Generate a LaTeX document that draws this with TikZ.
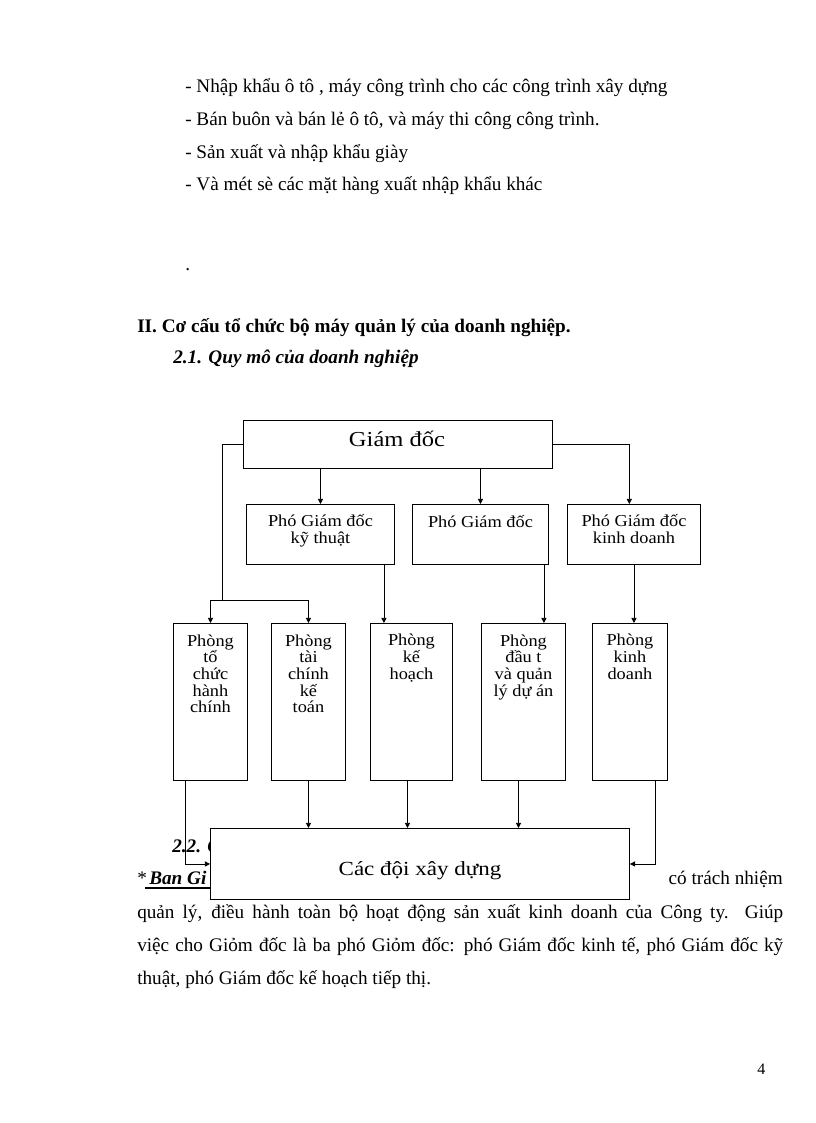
\documentclass[tikz,border=0pt]{standalone}
\usepackage{fontspec}
\setmainfont{Liberation Serif}
\newfontfamily\diafont[FakeStretch=1.1]{Liberation Serif}
\newfontfamily\bigfont[FakeStretch=1.15]{Liberation Serif}
\usetikzlibrary{arrows.meta,calc}
\lineskiplimit=-20pt
\begin{document}
\begin{tikzpicture}[x=0.75pt,y=-0.75pt,
  body/.style={anchor=base west,inner sep=0pt,font=\fontsize{14.4}{16}\selectfont},
  box/.style={draw,line width=0.7pt,fill=white,inner sep=0pt,anchor=north west},
  lbl/.style={anchor=base,inner sep=0pt,align=center,font=\diafont\fontsize{12.5}{12.5}\selectfont},
  conn/.style={draw,line width=0.6pt},
  arr/.style={conn,-{Triangle[length=3.8pt,width=3.8pt]}}]
\useasboundingbox (0,0) rectangle (816,1123);
\fill[white] (0,0) rectangle (816,1123);

% top text
\node[body] (t1) at (185,93) {- Nhập khẩu ô tô , máy công trình cho các công trình xây dựng};
\node[body] (t2) at (185,126) {- Bán buôn và bán lẻ ô tô, và máy thi công công trình.};
\node[body] (t3) at (185,159) {- Sản xuất và nhập khẩu giày};
\node[body] (t4) at (185,191) {- Và mét sè các mặt hàng xuất nhập khẩu khác};
\node[body] (dot) at (185,270) {.};
\node[body,font=\fontsize{14.4}{16}\selectfont\bfseries] (h1) at (137,332) {II. Cơ cấu tổ chức bộ máy quản lý của doanh nghiệp.};
\node[body,font=\fontsize{14.4}{16}\selectfont\bfseries\itshape] (h2) at (173,363) {2.1. Quy mô của doanh nghiệp};

% text partly hidden by the bottom box
\node[body,font=\fontsize{14.4}{16}\selectfont\bfseries\itshape] (h3) at (172,852) {2.2. C};
\node[body] (star) at (137,884) {* };
\node[body,font=\fontsize{14.4}{16}\selectfont\bfseries\itshape] (ban) at (149,884) {Ban Gi};
\draw[line width=1.4pt] (145,888) -- (215,888);
\node[body,anchor=base east] (p0) at (783,884) {có trách nhiệm};
\node[body] (p1) at (137,918) {\makebox[484.5pt][s]{quản lý, điều hành toàn bộ hoạt động sản xuất kinh doanh của Công ty. Giúp}};
\node[body] (p2) at (137,951) {\makebox[484.5pt][s]{việc cho Giỏm đốc là ba phó Giỏm đốc: phó Giám đốc kinh tế, phó Giám đốc kỹ}};
\node[body] (p3) at (137,984) {thuật, phó Giám đốc kế hoạch tiếp thị.};
\node[body,font=\fontsize{12}{14}\selectfont] (pg) at (757,1074) {4};

% baselines of the last line of each label
\coordinate (yA1) at (0,527);
\coordinate (yA2) at (0,543.5);
\coordinate (yB3) at (0,679.3);
\coordinate (yB4) at (0,696);
\coordinate (yB5) at (0,712.7);
\coordinate (yC) at (0,875);

% boxes
\node[box,minimum width=309*0.75pt,minimum height=48*0.75pt] (gd) at (243,420) {};
\node[lbl,font=\bigfont\fontsize{16}{18}\selectfont] (gdt) at (397,446) {Giám đốc};

\node[box,minimum width=148*0.75pt,minimum height=60*0.75pt] (pgd1) at (246,504) {};
\node[box,minimum width=136*0.75pt,minimum height=60*0.75pt] (pgd2) at (412,504) {};
\node[box,minimum width=133*0.75pt,minimum height=60*0.75pt] (pgd3) at (567,504) {};
\node[lbl] (pgd1t) at (pgd1.north |- yA2) {Phó Giám đốc\\kỹ thuật};
\node[lbl] (pgd2t) at (pgd2.north |- yA1) {Phó Giám đốc};
\node[lbl] (pgd3t) at (pgd3.north |- yA2) {Phó Giám đốc\\kinh doanh};

\node[box,minimum width=74*0.75pt,minimum height=157*0.75pt] (pA) at (173,623) {};
\node[box,minimum width=74*0.75pt,minimum height=157*0.75pt] (pB) at (271,623) {};
\node[box,minimum width=82*0.75pt,minimum height=157*0.75pt] (pC) at (370,623) {};
\node[box,minimum width=84*0.75pt,minimum height=157*0.75pt] (pD) at (481,623) {};
\node[box,minimum width=75*0.75pt,minimum height=157*0.75pt] (pE) at (592,623) {};
\node[lbl] (pAt) at (pA.north |- yB5) {Phòng\\tổ\\chức\\hành\\chính};
\node[lbl] (pBt) at (pB.north |- yB5) {Phòng\\tài\\chính\\kế\\toán};
\node[lbl] (pCt) at (pC.north |- yB3) {Phòng\\kế\\hoạch};
\node[lbl] (pDt) at (pD.north |- yB4) {Phòng\\đầu t\\và quản\\lý dự án};
\node[lbl] (pEt) at (pE.north |- yB3) {Phòng\\kinh\\doanh};

\node[box,minimum width=419*0.75pt,minimum height=71*0.75pt] (tm) at (210,828) {};
\node[lbl,font=\bigfont\fontsize{15}{18}\selectfont] (tmt) at (tm.center |- yC) {Các đội xây dựng};

% connectors
\coordinate (lj) at (222,600);
\draw[conn] (gd.west) -| (lj);
\draw[arr] (lj) -| (pA.north);
\draw[arr] (lj) -| (pB.north);
\draw[arr] (gd.east) -| ([xshift=-3.5pt]pgd3.north);
\draw[arr] (gd.south -| pgd1.north) -- (pgd1.north);
\draw[arr] (gd.south -| pgd2.north) -- (pgd2.north);

\coordinate (k1) at ([xshift=-8.25pt]pgd1.south east);
\coordinate (k2) at ([xshift=-3.75pt]pgd2.south east);
\draw[arr] (k1) -- (k1 |- pC.north);
\draw[arr] (k2) -- (k2 |- pD.north);
\draw[arr] (pgd3.south) -- (pgd3.south |- pE.north);

\coordinate (b1) at ([xshift=9pt]pA.south west);
\coordinate (b3) at ([xshift=-3pt]pC.south);
\coordinate (b4) at ([xshift=-3.75pt]pD.south);
\coordinate (b5) at ([xshift=-9.75pt]pE.south east);
\draw[arr] (b1) |- (tm.west);
\draw[arr] (pB.south) -- (pB.south |- tm.north);
\draw[arr] (b3) -- (b3 |- tm.north);
\draw[arr] (b4) -- (b4 |- tm.north);
\draw[arr] (b5) |- (tm.east);
\end{tikzpicture}
\end{document}
